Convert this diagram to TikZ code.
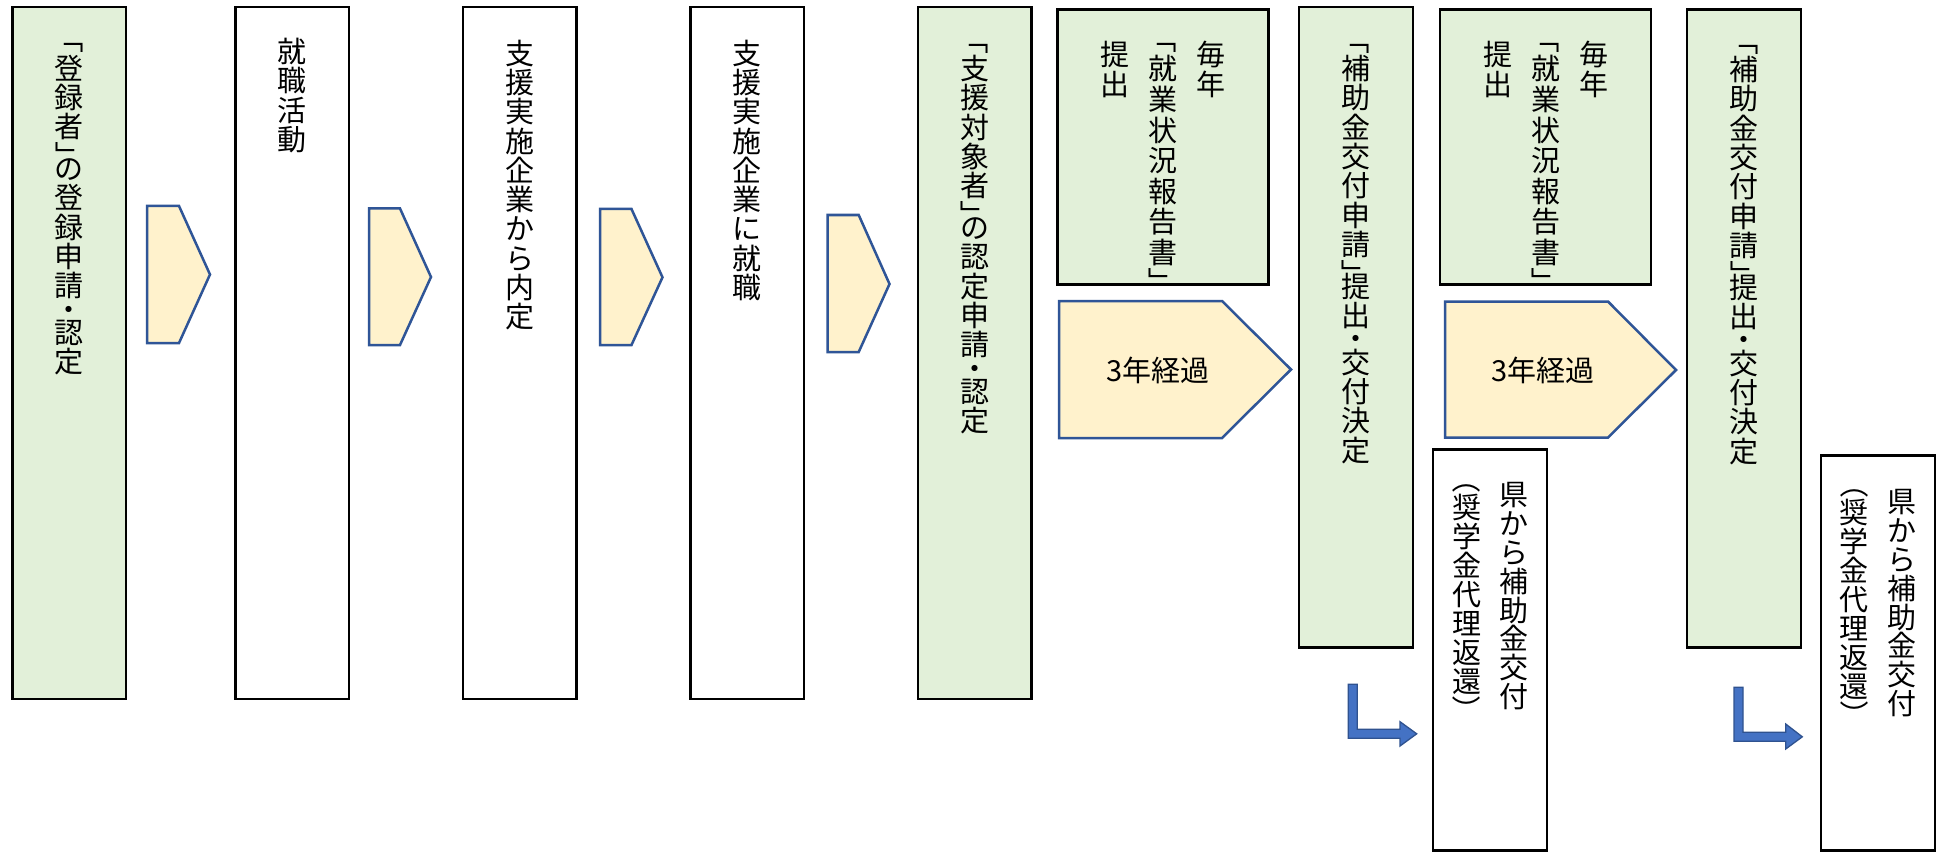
\documentclass[tikz,border=0pt]{standalone}
\usepackage{fontspec}
\usepackage{graphicx}
\setmainfont{Noto Sans CJK JP}
\definecolor{gfill}{HTML}{E2F0D9}
\definecolor{yfill}{HTML}{FFF2CC}
\definecolor{bline}{HTML}{2F5597}
\definecolor{afill}{HTML}{4472C4}
\definecolor{aline}{HTML}{2F528F}
\newcommand\jpfont{\fontsize{29}{29}\selectfont}
\makeatletter
\newdimen\vt@p \newdimen\vt@b \newdimen\vt@d
\vt@b=12.5pt \vt@d=17.4pt
\def\vt@sq#1{\hbox to 1em{\hss\raisebox{0pt}[.88em][.12em]{#1}\hss}}
\def\vt@normal#1{\vbox to \vt@p{\vss\vt@sq{#1}\vss}}
\def\vt@open#1{\vbox to \vt@b{\vss\hbox{\rotatebox[origin=c]{-90}{\vt@sq{#1}}}\kern0pt}}
\def\vt@close#1{\vbox to \vt@b{\hbox{\rotatebox[origin=c]{-90}{\vt@sq{#1}}}\vss}}
\def\vt@dot#1{\vbox to \vt@d{\vss\vt@sq{#1}\vss}}
\def\vt@end{\vt@end}
\def\vt@char#1{\ifx#1「\vt@open{#1}\else\ifx#1（\vt@open{#1}\else\ifx#1」\vt@close{#1}\else\ifx#1）\vt@close{#1}\else\ifx#1・\vt@dot{#1}\else\vt@normal{#1}\fi\fi\fi\fi\fi}
\def\vt@loop#1{\ifx#1\vt@end\else\vt@char#1\expandafter\vt@loop\fi}
\newcommand\vtext[2][29.3pt]{\vbox{\offinterlineskip\vt@p=#1\relax\vt@loop#2\vt@end}}
\makeatother
\begin{document}
\begin{tikzpicture}[x=1pt,y=-1pt,
  box/.style={draw=black,line width=2.9pt,inner sep=0pt,outer sep=0pt,anchor=north west},
  gbox/.style={box,fill=gfill},
  wbox/.style={box,fill=white},
  tall/.style={minimum width=113.5pt,minimum height=692pt},
  chev/.style={draw=bline,line width=2.5pt,fill=yfill,line join=miter},
  barrow/.style={draw=aline,line width=1.3pt,fill=afill,line join=miter},
  vtxt/.style={inner sep=0pt,outer sep=0pt,anchor=north,font=\jpfont},
  htxt/.style={inner sep=0pt,outer sep=0pt,font=\jpfont}]
\fill[white] (0,0) rectangle (1948,853);
\useasboundingbox (0,0) rectangle (1948,853);
% tall boxes
\node[gbox,tall] (b1) at (12.5,7) {};
\node[wbox,tall] (b2) at (235.5,7) {};
\node[wbox,tall] (b3) at (463,7) {};
\node[wbox,tall] (b4) at (690.5,7) {};
\node[gbox,tall] (b5) at (918,7) {};
\node[gbox,minimum width=211pt,minimum height=275pt] (b6) at (1057.5,9.5) {};
\node[gbox,minimum width=114pt,minimum height=640.5pt] (b7) at (1299,7) {};
\node[gbox,minimum width=211pt,minimum height=275pt] (b8) at (1440,9.5) {};
\node[gbox,minimum width=114pt,minimum height=638pt] (b9) at (1687,9.5) {};
\node[wbox,minimum width=114pt,minimum height=401pt] (b10) at (1433,449.5) {};
\node[wbox,minimum width=114pt,minimum height=395pt] (b11) at (1821,455.5) {};
% small chevrons
\draw[chev] (147,206) -- (179,206) -- (210,274.5) -- (179,343) -- (147,343) -- cycle;
\draw[chev] (369,208.5) -- (400,208.5) -- (431,277) -- (400,345) -- (369,345) -- cycle;
\draw[chev] (600,209) -- (631.5,209) -- (662.5,277.3) -- (631.5,345) -- (600,345) -- cycle;
\draw[chev] (827.5,215) -- (858.7,215) -- (889.5,284) -- (858.7,352) -- (827.5,352) -- cycle;
% pentagons
\draw[chev] (1059,301) -- (1222,301) -- (1291,369.5) -- (1222,438) -- (1059,438) -- cycle;
\draw[chev] (1445,301.5) -- (1608,301.5) -- (1676,370) -- (1608,437.5) -- (1445,437.5) -- cycle;
\node[htxt] (p1) at (1158,370) {3年経過};
\node[htxt] (p2) at (1543,370) {3年経過};
% bent arrows
\draw[barrow] (1348.3,684.3) -- (1357.3,684.3) -- (1357.3,729.3) -- (1400,729.3) -- (1400,721.7)
  -- (1416.7,733.8) -- (1400,746) -- (1400,738.3) -- (1348.3,738.3) -- cycle;
\draw[barrow] (1734,687.3) -- (1743,687.3) -- (1743,732.3) -- (1785.7,732.3) -- (1785.7,724)
  -- (1802.3,736.8) -- (1785.7,749) -- (1785.7,741.3) -- (1734,741.3) -- cycle;
% texts
\node[vtxt] (t1) at (69.25,41) {\vtext{「登録者」の登録申請・認定}};
\node[vtxt] (t2) at (292.4,37) {\vtext{就職活動}};
\node[vtxt] (t3) at (519.7,38.5) {\vtext{支援実施企業から内定}};
\node[vtxt] (t4) at (747.2,38.5) {\vtext{支援実施企業に就職}};
\node[vtxt] (t5) at (974.75,41.5) {\vtext{「支援対象者」の認定申請・認定}};
\node[vtxt] (t6a) at (1211,39.5) {\vtext[30.2pt]{毎年}};
\node[vtxt] (t6b) at (1163,41) {\vtext[30.6pt]{「就業状況報告書」}};
\node[vtxt] (t6c) at (1115,39.5) {\vtext[30.2pt]{提出}};
\node[vtxt] (t7) at (1356,41.5) {\vtext{「補助金交付申請」提出・交付決定}};
\node[vtxt] (t8a) at (1593.5,39.5) {\vtext[30.2pt]{毎年}};
\node[vtxt] (t8b) at (1545.5,41) {\vtext[30.6pt]{「就業状況報告書」}};
\node[vtxt] (t8c) at (1497.5,39.5) {\vtext[30.2pt]{提出}};
\node[vtxt] (t9) at (1744,42.5) {\vtext{「補助金交付申請」提出・交付決定}};
\node[vtxt] (t10a) at (1514,480) {\vtext[28.9pt]{県から補助金交付}};
\node[vtxt] (t10b) at (1466.5,481) {\vtext[28.9pt]{（奨学金代理返還）}};
\node[vtxt] (t11a) at (1901.5,487) {\vtext[28.9pt]{県から補助金交付}};
\node[vtxt] (t11b) at (1854,486) {\vtext[28.9pt]{（奨学金代理返還）}};
\end{tikzpicture}
\end{document}
